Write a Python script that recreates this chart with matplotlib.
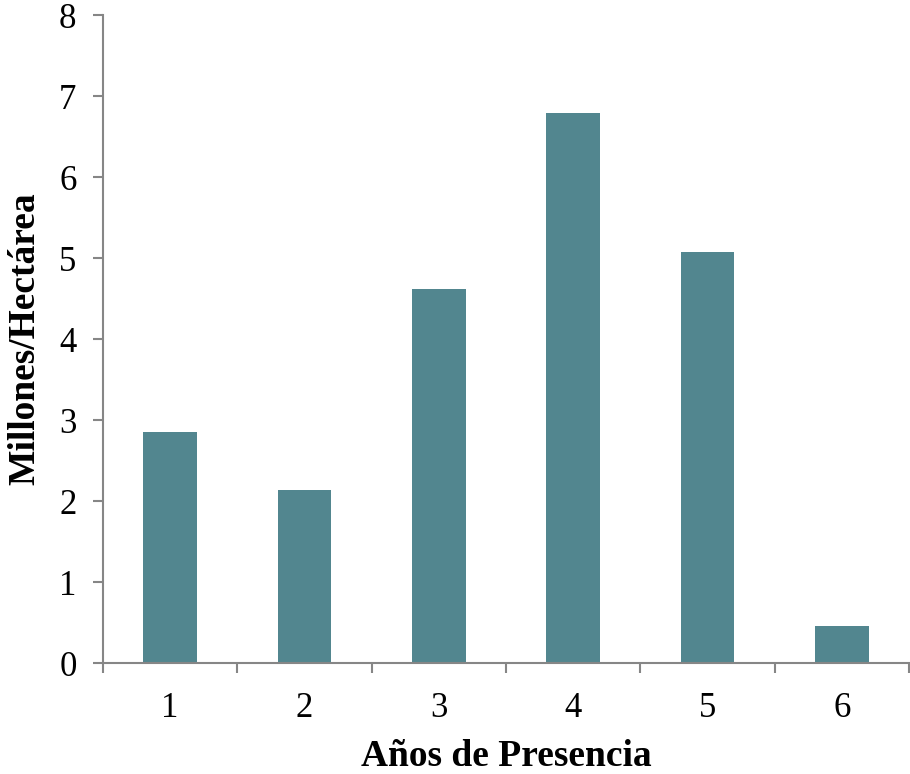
import matplotlib.pyplot as plt
import numpy as np

# Data
years = ['1', '2', '3', '4', '5', '6']
millions_per_ha = [2.85, 2.14, 4.62, 6.79, 5.07, 0.46]

plt.rcParams['font.family'] = ['Liberation Serif', 'DejaVu Serif']

fig = plt.figure(figsize=(9.1, 7.74), dpi=100)
ax = fig.add_axes([0.1132, 0.1434, 0.8857, 0.8372])

x = np.arange(len(years))
ax.bar(x, millions_per_ha, width=0.4, color='#52868f', zorder=2)

gray = '#868686'
ax.set_xlim(-0.5, len(years) - 0.5)
ax.set_ylim(0, 8)
ax.set_yticks(range(0, 9))
ax.set_xticks(x)
ax.set_xticklabels(years)
ax.set_xticks(np.arange(-0.5, len(years)), minor=True)

for side in ['top', 'right']:
    ax.spines[side].set_visible(False)
for side in ['left', 'bottom']:
    ax.spines[side].set_color(gray)
    ax.spines[side].set_linewidth(1.5)

ax.tick_params(axis='y', direction='out', length=7, width=1.5, color=gray,
               labelsize=25, pad=12)
ax.tick_params(axis='x', which='major', length=0, labelsize=25, pad=21)
ax.tick_params(axis='x', which='minor', direction='out', length=7,
               width=1.5, color=gray)

ax.set_xlabel('Años de Presencia', fontsize=27, fontweight='bold', labelpad=10)
ax.set_ylabel('Millones/Hectárea', fontsize=27, fontweight='bold', labelpad=12)

fig.savefig('out.png', dpi=100)
